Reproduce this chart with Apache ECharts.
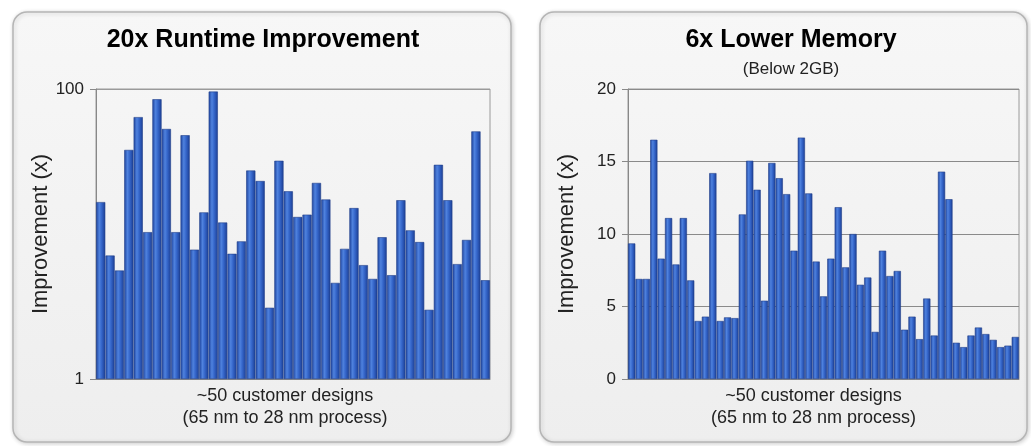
<!DOCTYPE html>
<html>
<head>
<meta charset="utf-8">
<script src="https://cdn.jsdelivr.net/npm/echarts@6/dist/echarts.min.js"></script>
<style>
  html, body { margin: 0; padding: 0; background: #fff; }
  #chart { width: 1031px; height: 446px; }
</style>
</head>
<body>
<div id="chart"></div>
<script>
// runtime improvement per design (log scale, 1..100)
const runtimeGain = [
  16.6, 7.1, 5.6, 38, 64, 10.3, 85, 53, 10.3, 48,
  7.8, 14.1, 96, 12, 7.3, 8.9, 27.4, 23.2, 3.1, 32,
  19.7, 13.1, 13.6, 22.5, 17.3, 4.6, 7.9, 15.1, 6.1, 4.9,
  9.5, 5.2, 17.1, 10.6, 8.8, 3.0, 30, 17.1, 6.2, 9.1,
  51, 4.8
];

// memory improvement per design (linear, 0..20)
const memoryGain = [
  9.35, 6.9, 6.9, 16.5, 8.3, 11.1, 7.9, 11.1, 6.8, 4.0,
  4.3, 14.2, 4.0, 4.25, 4.2, 11.35, 15.05, 13.05, 5.4, 14.9,
  13.85, 12.75, 8.85, 16.65, 12.8, 8.1, 5.7, 8.3, 11.85, 7.7,
  10.0, 6.5, 7.0, 3.25, 8.85, 7.1, 7.45, 3.4, 4.3, 2.75,
  5.55, 3.0, 14.3, 12.4, 2.5, 2.2, 3.0, 3.55, 3.1, 2.7,
  2.2, 2.3, 2.9
];

const runtimeTicks = runtimeGain.map((v, i) => "D" + (i + 1));
const memoryTicks = memoryGain.map((v, i) => "D" + (i + 1));

const xName = "~50 customer designs\n(65 nm to 28 nm process)";
const yName = "Improvement (x)";

const chart = echarts.init(document.getElementById("chart"));

const barStyle = {
  color: new echarts.graphic.LinearGradient(0, 0, 1, 0, [
    { offset: 0, color: "#1d429c" },
    { offset: 0.35, color: "#4f82de" },
    { offset: 0.6, color: "#3566ca" },
    { offset: 1, color: "#1b3d92" },
  ]),
  borderColor: "#22408a",
  borderWidth: 0.6,
};

const panelFill = new echarts.graphic.LinearGradient(0, 0, 0, 1, [
  { offset: 0, color: "#f7f7f7" },
  { offset: 1, color: "#eeeeee" },
]);

const axisText = { color: "#222", fontSize: 17, fontFamily: "Liberation Sans" };

const option = {
  backgroundColor: "#fff",
  animation: false,
  graphic: [
    {
      type: "rect", z: -10, silent: true,
      shape: { x: 13, y: 12, width: 498, height: 430, r: 14 },
      style: { fill: panelFill, stroke: "#b5b5b5", lineWidth: 1.5,
        shadowBlur: 4, shadowColor: "rgba(0,0,0,0.18)", shadowOffsetX: 1, shadowOffsetY: 1 },
    },
    {
      type: "rect", z: -10, silent: true,
      shape: { x: 540, y: 12, width: 487, height: 430, r: 14 },
      style: { fill: panelFill, stroke: "#b5b5b5", lineWidth: 1.5,
        shadowBlur: 4, shadowColor: "rgba(0,0,0,0.18)", shadowOffsetX: 1, shadowOffsetY: 1 },
    },
    {
      type: "text", silent: true,
      style: { x: 263, y: 40, text: "20x Runtime Improvement", textAlign: "center",
        textVerticalAlign: "middle", fill: "#000",
        font: "bold 25px 'Liberation Sans'" },
    },
    {
      type: "text", silent: true,
      style: { x: 791, y: 40, text: "6x Lower Memory", textAlign: "center",
        textVerticalAlign: "middle", fill: "#000",
        font: "bold 25px 'Liberation Sans'" },
    },
    {
      type: "text", silent: true,
      style: { x: 791, y: 69, text: "(Below 2GB)", textAlign: "center",
        textVerticalAlign: "middle", fill: "#222",
        font: "17px 'Liberation Sans'" },
    },
  ],
  grid: [
    { left: 96, right: 541, top: 89, bottom: 67, show: true,
      borderColor: "#9a9a9a", borderWidth: 1, backgroundColor: "transparent" },
    { left: 628, right: 12, top: 89, bottom: 67, show: true,
      borderColor: "#9a9a9a", borderWidth: 1, backgroundColor: "transparent" },
  ],
  xAxis: [
    {
      type: "category", gridIndex: 0, data: runtimeTicks,
      axisLine: { lineStyle: { color: "#888" } },
      axisTick: { show: false }, axisLabel: { show: false },
      name: xName, nameLocation: "middle", nameGap: 6,
      nameTextStyle: { color: "#222", fontSize: 18, lineHeight: 22,
        fontFamily: "Liberation Sans", padding: [0, 16, 0, 0] },
    },
    {
      type: "category", gridIndex: 1, data: memoryTicks,
      axisLine: { lineStyle: { color: "#888" } },
      axisTick: { show: false }, axisLabel: { show: false },
      name: xName, nameLocation: "middle", nameGap: 6,
      nameTextStyle: { color: "#222", fontSize: 18, lineHeight: 22,
        fontFamily: "Liberation Sans", padding: [0, 20, 0, 0] },
    },
  ],
  yAxis: [
    {
      type: "log", gridIndex: 0, logBase: 100, min: 1, max: 100,
      axisLine: { show: true, lineStyle: { color: "#888" } },
      axisTick: { show: true, inside: false, length: 6, lineStyle: { color: "#888" } },
      axisLabel: Object.assign({ margin: 12 }, axisText),
      splitLine: { show: true, lineStyle: { color: "#9a9a9a" } },
      name: yName, nameLocation: "middle", nameGap: 42, nameRotate: 90,
      nameTextStyle: { color: "#222", fontSize: 22, fontFamily: "Liberation Sans" },
    },
    {
      type: "value", gridIndex: 1, min: 0, max: 20, interval: 5,
      axisLine: { show: true, lineStyle: { color: "#888" } },
      axisTick: { show: true, inside: false, length: 6, lineStyle: { color: "#888" } },
      axisLabel: Object.assign({ margin: 12 }, axisText),
      splitLine: { show: true, lineStyle: { color: "#8a8a8a" } },
      name: yName, nameLocation: "middle", nameGap: 50, nameRotate: 90,
      nameTextStyle: { color: "#222", fontSize: 22, fontFamily: "Liberation Sans" },
    },
  ],
  series: [
    {
      type: "bar", xAxisIndex: 0, yAxisIndex: 0, data: runtimeGain,
      barCategoryGap: "2%", itemStyle: barStyle,
    },
    {
      type: "bar", xAxisIndex: 1, yAxisIndex: 1, data: memoryGain,
      barCategoryGap: "2%", itemStyle: barStyle,
    },
  ],
};

chart.setOption(option);
</script>
</body>
</html>
